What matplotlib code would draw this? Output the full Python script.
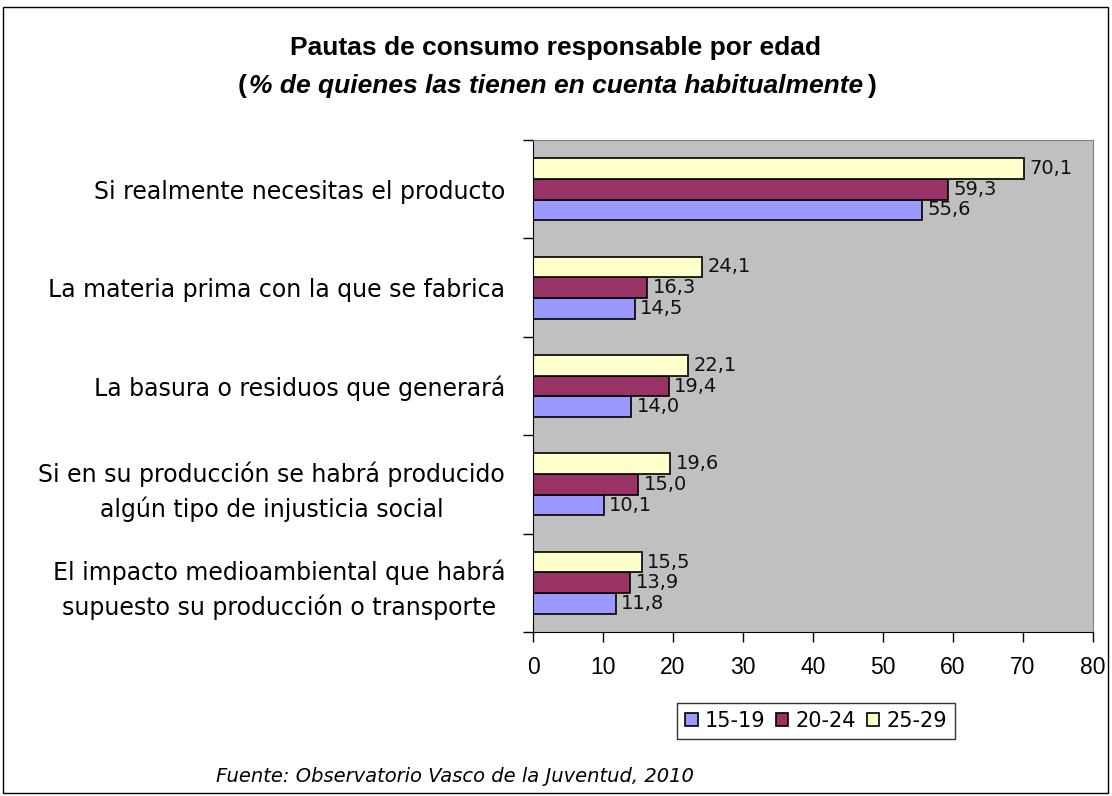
import matplotlib.pyplot as plt
from matplotlib.patches import Rectangle

# Data
categorias = [
    'Si realmente necesitas el producto',
    'La materia prima con la que se fabrica',
    'La basura o residuos que generará',
    'Si en su producción se habrá producido\nalgún tipo de injusticia social',
    'El impacto medioambiental que habrá\nsupuesto su producción o transporte',
]
edad_15_19 = [55.6, 14.5, 14.0, 10.1, 11.8]
edad_20_24 = [59.3, 16.3, 19.4, 15.0, 13.9]
edad_25_29 = [70.1, 24.1, 22.1, 19.6, 15.5]
series = ['15-19', '20-24', '25-29']
x_ticks = [0, 10, 20, 30, 40, 50, 60, 70, 80]

colores = ['#9999FF', '#993366', '#FFFFCC']

W, H = 1112, 796
fig = plt.figure(figsize=(W / 100, H / 100), dpi=100)
fig.patch.set_facecolor('white')
ax = fig.add_axes([533 / W, 1 - 632 / H, 560 / W, 492 / H])
ax.set_facecolor('#C0C0C0')

h = 0.21
n = len(categorias)
pos = [n - 1 - i for i in range(n)]
valores = [edad_15_19, edad_20_24, edad_25_29]
offsets = [-h, 0, h]
for vals, off, col, lab in zip(valores, offsets, colores, series):
    ys = [p + off for p in pos]
    ax.barh(ys, vals, height=h, color=col, edgecolor='black', linewidth=1.2, label=lab)
    for y, v in zip(ys, vals):
        ax.annotate(f'{v:.1f}'.replace('.', ','), (v, y), xytext=(4, 0),
                    textcoords='offset points', va='center', ha='left',
                    fontsize=14, family='DejaVu Sans', color='#111111')

ax.set_xlim(0, 80)
ax.set_ylim(-0.5, n - 0.5)
ax.set_xticks(x_ticks)
ax.set_xticklabels([str(t) for t in x_ticks], family='Liberation Sans', fontsize=16.5)
ax.tick_params(axis='x', direction='out', length=7, width=1, pad=10)

# group separators as major ticks, labels at group centres as minor ticks
ax.set_yticks([i + 0.5 for i in range(-1, n)])
ax.set_yticklabels([])
ax.tick_params(axis='y', which='major', direction='out', length=7, width=1)
ax.set_yticks(pos, minor=True)
ax.set_yticklabels(categorias, minor=True, family='DejaVu Sans', fontsize=17,
                   linespacing=1.45, multialignment='center')
ax.tick_params(axis='y', which='minor', length=0, pad=20)

for s in ['top', 'right']:
    ax.spines[s].set_color('#808080')
for s in ['left', 'bottom']:
    ax.spines[s].set_color('black')

fig.text(0.5, 1 - 48 / H, 'Pautas de consumo responsable por edad',
         ha='center', va='center', fontsize=19, fontweight='bold', family='Liberation Sans')

# second title line: bold parentheses around bold italic text
y2 = 1 - 86 / H
renderer = fig.canvas.get_renderer()
mid = fig.text(0.5, y2, '% de quienes las tienen en cuenta habitualmente',
               ha='center', va='center', fontsize=19, fontweight='bold',
               style='italic', family='Liberation Sans')
bb = mid.get_window_extent(renderer)
fig.text(bb.x0 / W - 0.002, y2, '(', ha='right', va='center', fontsize=19,
         fontweight='bold', family='Liberation Sans')
fig.text(bb.x1 / W + 0.004, y2, ')', ha='left', va='center', fontsize=19,
         fontweight='bold', family='Liberation Sans')

leg = ax.legend(loc='center', bbox_to_anchor=(816 / W, 1 - 721 / H),
                bbox_transform=fig.transFigure, ncol=3, frameon=True, fancybox=False,
                prop={'family': 'DejaVu Sans', 'size': 15}, handlelength=0.6,
                handleheight=0.6, handletextpad=0.35, columnspacing=0.5,
                borderpad=0.4, edgecolor='black')
leg.get_frame().set_linewidth(1)

fig.text(216 / W, 1 - 776 / H, 'Fuente: Observatorio Vasco de la Juventud, 2010',
         ha='left', va='center', fontsize=14, style='italic', family='DejaVu Sans')

fig.patches.append(Rectangle((3 / W, 3 / H), 1105 / W, 786 / H,
                             transform=fig.transFigure, fill=False,
                             edgecolor='black', linewidth=1))

fig.savefig('out.png', dpi=100)
